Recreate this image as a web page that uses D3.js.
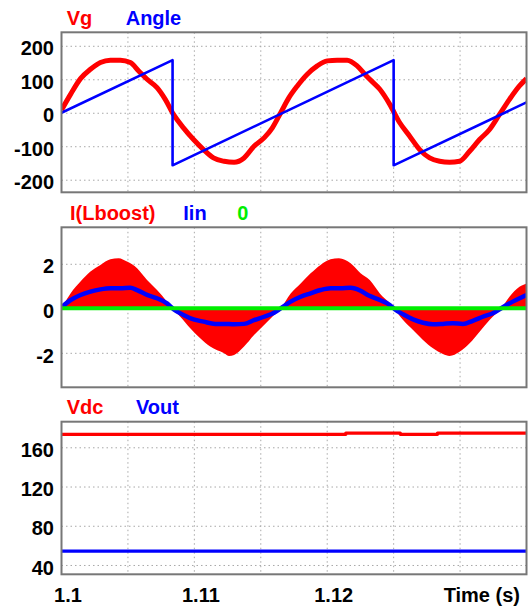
<!DOCTYPE html>
<html>
<head>
<meta charset="utf-8">
<script src="https://cdn.jsdelivr.net/npm/d3@7"></script>
<style>
  html, body { margin: 0; padding: 0; background: #fff; }
  svg { display: block; }
  text { font-family: "Liberation Sans", Arial, sans-serif; font-weight: bold; font-size: 20px; }
</style>
</head>
<body>
<svg id="chart" width="528" height="606"></svg>
<script>
// ---- shared time axis (seconds) ----
const timeDomain = [1.1, 1.135];
const timeTicks = [1.1, 1.11, 1.12];
const timeGrid = [1.105, 1.11, 1.115, 1.12, 1.125, 1.13];
const timeTitle = "Time (s)";

// ---- panel 1: grid voltage and PLL angle ----
const vgTime = [1.1, 1.10068, 1.10143, 1.10218, 1.10293, 1.10368, 1.10443, 1.10518, 1.10581, 1.10644,
  1.10719, 1.10781, 1.10843, 1.10918, 1.10994, 1.11069, 1.11144, 1.11224, 1.11299, 1.11374,
  1.11449, 1.11525, 1.11587, 1.1165, 1.11712, 1.11775, 1.1185, 1.11925, 1.12, 1.12075,
  1.1215, 1.12225, 1.1229, 1.1232, 1.12396, 1.12471, 1.12546, 1.12621, 1.12696, 1.12771,
  1.12846, 1.12921, 1.12996, 1.13072, 1.13147, 1.13222, 1.13297, 1.13372, 1.13447, 1.135];
const vgValue = [8, 55, 102, 130, 150, 157, 157, 150, 125, 100,
  75, 40, -5, -45, -80, -110, -135, -145, -148, -135,
  -100, -75, -45, 0, 45, 80, 115, 140, 155, 157,
  157, 140, 112, 100, 70, 25, -30, -70, -110, -135,
  -145, -148, -145, -115, -80, -50, -5, 40, 80, 102];
const angleTime = [1.1, 1.10836, 1.10836, 1.125, 1.125, 1.135];
const angleValue = [0, 157, -157, 157, -157, 31];
const vgTicks = [-200, -100, 0, 100, 200];

// ---- panel 2: boost inductor current, input current, zero reference ----
const iLTime = [1.1, 1.10068, 1.10143, 1.10218, 1.10293, 1.10368, 1.1043, 1.10493, 1.10569, 1.10644,
  1.10719, 1.10794, 1.10831, 1.10894, 1.10969, 1.11044, 1.11119, 1.11224, 1.11262, 1.11299,
  1.11374, 1.11449, 1.11525, 1.116, 1.1165, 1.11725, 1.118, 1.11875, 1.1195, 1.12025,
  1.12088, 1.12176, 1.12251, 1.1232, 1.12396, 1.12471, 1.12501, 1.12571, 1.12646, 1.12721,
  1.12796, 1.12871, 1.12921, 1.12996, 1.13072, 1.13147, 1.13222, 1.1331, 1.13372, 1.13447, 1.135];
const iLPeak = [0, 0.67, 1.2, 1.65, 1.95, 2.2, 2.25, 2.1, 1.8, 1.27,
  0.82, 0.3, 0, -0.38, -0.9, -1.35, -1.72, -2.02, -2.14, -2.1,
  -1.72, -1.2, -0.75, -0.3, 0, 0.67, 1.12, 1.57, 1.95, 2.2,
  2.25, 2.02, 1.57, 1.27, 0.67, 0.22, 0, -0.53, -0.98, -1.42,
  -1.8, -2.05, -2.14, -1.95, -1.57, -1.05, -0.53, 0, 0.52, 0.97, 1.12];
const iinTime = [1.1, 1.10068, 1.10143, 1.10218, 1.10293, 1.10368, 1.10443, 1.10518, 1.10569, 1.10644,
  1.10719, 1.10794, 1.10843, 1.10918, 1.10994, 1.11069, 1.11157, 1.11224, 1.11299, 1.11374,
  1.11449, 1.11525, 1.116, 1.1165, 1.11725, 1.118, 1.11875, 1.1195, 1.12025, 1.121,
  1.12176, 1.12251, 1.12313, 1.12396, 1.12471, 1.12508, 1.12571, 1.12646, 1.12721, 1.12796,
  1.12871, 1.12946, 1.13021, 1.13096, 1.13171, 1.13247, 1.13322, 1.13397, 1.13472, 1.135];
const iinValue = [0.05, 0.37, 0.6, 0.75, 0.85, 0.9, 0.9, 0.92, 0.82, 0.6,
  0.45, 0.22, -0.04, -0.3, -0.5, -0.6, -0.7, -0.7, -0.72, -0.7,
  -0.53, -0.38, -0.2, 0, 0.3, 0.52, 0.67, 0.82, 0.9, 0.9,
  0.92, 0.79, 0.57, 0.37, 0.15, -0.04, -0.27, -0.5, -0.65, -0.72,
  -0.7, -0.67, -0.7, -0.56, -0.38, -0.22, 0.05, 0.3, 0.52, 0.6];
const zeroTime = [1.1, 1.135];
const zeroValue = [0, 0];
const iTicks = [-2, 0, 2];

// ---- panel 3: DC bus and output voltage ----
const vdcTime = [1.1, 1.1214, 1.1255, 1.1283, 1.135];
const vdcValue = [173.2, 174.5, 173.2, 174.5, 174.5];
const voutTime = [1.1, 1.135];
const voutValue = [54.2, 54.2];
const dcTicks = [40, 80, 120, 160];

const RED = "#ff0000", BLUE = "#0000ff", GREEN = "#00ee00";

// ---- layout ----
const svg = d3.select("#chart");
const left = 61.5, right = 526.5;
const x = d3.scaleLinear().domain(timeDomain).range([left, right]);

const panels = [
  { top: 32.3, bottom: 192.3, yDomain: [-237.6, 240.3], ticks: vgTicks,
    legend: [{ text: "Vg", color: RED, x: 66.7 }, { text: "Angle", color: BLUE, x: 125.7 }] },
  { top: 227.3, bottom: 387.3, yDomain: [-3.55, 3.64], ticks: iTicks,
    legend: [{ text: "I(Lboost)", color: RED, x: 70 }, { text: "Iin", color: BLUE, x: 183.3 }, { text: "0", color: GREEN, x: 237.3 }] },
  { top: 421.7, bottom: 574.3, yDomain: [30.5, 186.1], ticks: dcTicks,
    legend: [{ text: "Vdc", color: RED, x: 66.7 }, { text: "Vout", color: BLUE, x: 136 }] }
];

panels.forEach((p, i) => {
  p.y = d3.scaleLinear().domain(p.yDomain).range([p.bottom, p.top]);
  const g = svg.append("g");
  p.g = g;

  // clip region for traces
  svg.append("clipPath").attr("id", "clip" + i)
    .append("rect").attr("x", left).attr("y", p.top)
    .attr("width", right - left).attr("height", p.bottom - p.top);

  // horizontal grid + tick labels via the axis generator (plain hyphen minus)
  const yAxis = d3.axisLeft(p.y).tickValues(p.ticks)
    .tickSize(-(right - left)).tickPadding(7.5).tickFormat(d => String(d));
  const ag = g.append("g").attr("transform", `translate(${left},0)`).call(yAxis);
  ag.select(".domain").remove();
  ag.selectAll(".tick line")
    .attr("stroke", "#a8a8a8").attr("stroke-width", 1).attr("stroke-dasharray", "1.5 3");
  ag.selectAll(".tick text")
    .attr("fill", "#000").attr("dy", "0.46em")
    .style("font-family", '"Liberation Sans", Arial, sans-serif')
    .style("font-weight", "bold").style("font-size", "20px");

  // vertical grid
  g.append("g").selectAll("line").data(timeGrid).join("line")
    .attr("x1", d => x(d)).attr("x2", d => x(d))
    .attr("y1", p.top).attr("y2", p.bottom)
    .attr("stroke", "#a8a8a8").attr("stroke-width", 1).attr("stroke-dasharray", "1.5 3");

  // legend
  g.append("g").selectAll("text").data(p.legend).join("text")
    .attr("x", d => d.x).attr("y", p.top - 7.3)
    .attr("fill", d => d.color).text(d => d.text);

  p.plot = svg.append("g").attr("clip-path", `url(#clip${i})`);
});

const zip = (ts, vs) => ts.map((t, k) => [t, vs[k]]);
function trace(p, ts, vs, color, width, curve) {
  const line = d3.line().x(d => x(d[0])).y(d => p.y(d[1])).curve(curve || d3.curveLinear);
  p.plot.append("path").datum(zip(ts, vs))
    .attr("d", line).attr("fill", "none")
    .attr("stroke", color).attr("stroke-width", width)
    .attr("stroke-linejoin", "round").attr("stroke-linecap", "butt");
}

// panel 1
const P1 = panels[0];
trace(P1, vgTime, vgValue, RED, 5, d3.curveMonotoneX);
trace(P1, angleTime, angleValue, BLUE, 2.6);

// panel 2: switching current envelope as a filled band from zero
const P2 = panels[1];
const area = d3.area().x(d => x(d[0])).y0(P2.y(0)).y1(d => P2.y(d[1])).curve(d3.curveMonotoneX);
P2.plot.append("path").datum(zip(iLTime, iLPeak)).attr("d", area).attr("fill", RED);
trace(P2, iinTime, iinValue, BLUE, 4.5, d3.curveMonotoneX);
trace(P2, zeroTime, zeroValue, GREEN, 4);

// panel 3
const P3 = panels[2];
trace(P3, vdcTime, vdcValue, RED, 3.3, d3.curveStepAfter);
trace(P3, voutTime, voutValue, BLUE, 3.3);

// frames on top
panels.forEach(p => {
  svg.append("rect").attr("x", left).attr("y", p.top)
    .attr("width", right - left).attr("height", p.bottom - p.top)
    .attr("fill", "none").attr("stroke", "#777").attr("stroke-width", 2);
});

// time axis labels under the last panel
const xAxis = d3.axisBottom(x).tickValues(timeTicks).tickSize(0).tickPadding(13.2)
  .tickFormat(d => String(d));
const xg = svg.append("g").attr("transform", `translate(0,${P3.bottom})`).call(xAxis);
xg.select(".domain").remove();
xg.selectAll(".tick text").attr("fill", "#000").attr("dx", 6)
  .style("font-family", '"Liberation Sans", Arial, sans-serif')
  .style("font-weight", "bold").style("font-size", "20px");

svg.append("text").attr("x", 520).attr("y", 601.7)
  .attr("text-anchor", "end").attr("fill", "#000").text(timeTitle);
</script>
</body>
</html>
